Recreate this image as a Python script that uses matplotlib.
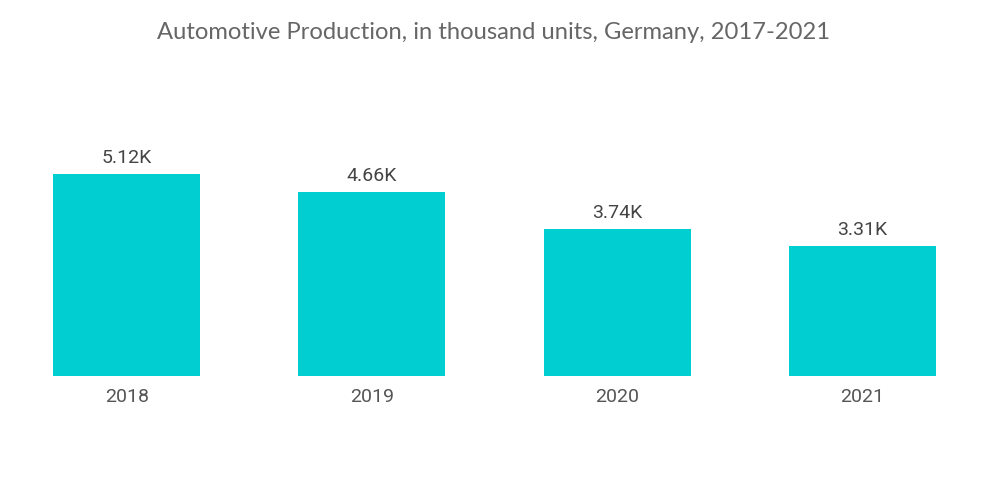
import matplotlib
matplotlib.use("Agg")
import matplotlib.pyplot as plt

years = ["2018", "2019", "2020", "2021"]
values = [5.12, 4.66, 3.74, 3.31]
value_labels = ["5.12K", "4.66K", "3.74K", "3.31K"]
title = "Automotive Production, in thousand units, Germany, 2017-2021"

fig = plt.figure(figsize=(10, 5.04), dpi=100)
ax = fig.add_axes([0.004, 0.254, 0.981, 0.469])
x = range(len(years))
bars = ax.bar(x, values, width=0.6, color="#00CED1")
ax.set_xlim(-0.5, 3.5)
ax.set_ylim(0, 6)
for xi, v, lab in zip(x, values, value_labels):
    ax.annotate(lab, (xi, v), xytext=(0, 5), textcoords="offset points",
                ha="center", va="bottom", fontsize=14, family="Roboto", color="#444444")
ax.set_xticks(list(x))
ax.set_xticklabels(years, fontsize=14, family="Roboto", color="#555555")
ax.tick_params(axis="x", length=0, pad=9)
ax.set_yticks([])
for s in ax.spines.values():
    s.set_visible(False)
fig.text(0.494, 0.936, title, ha="center", va="center", fontsize=17.1, family="Lato", color="#666666")
fig.savefig("out.png", dpi=100)
